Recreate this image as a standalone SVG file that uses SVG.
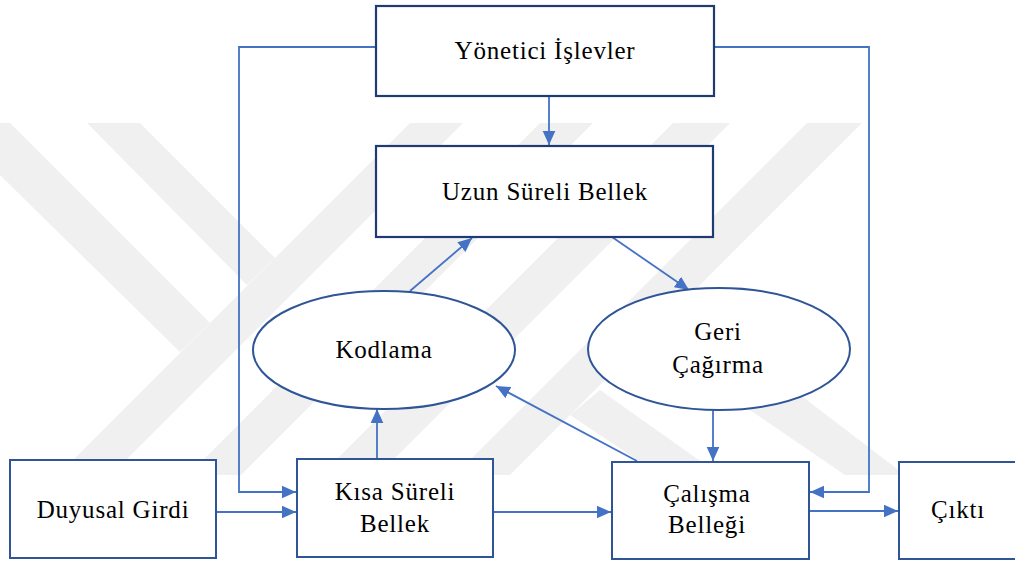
<svg xmlns="http://www.w3.org/2000/svg" width="1015" height="565" viewBox="0 0 1015 565">
<defs>
<style>
.wm{fill:#f0f0f0;}
.box{fill:#ffffff;stroke:#1f3b73;stroke-width:2.2;}
.box2{fill:#ffffff;stroke:#2f5597;stroke-width:2;}
.ell{fill:#ffffff;stroke:#2f5597;stroke-width:2;}
.conn{fill:none;stroke:#4472c4;stroke-width:1.8;}
.lbl{font-family:'Liberation Serif','Times New Roman',serif;font-size:25px;fill:#000000;text-anchor:middle;letter-spacing:0.8px;}
</style>
<marker id="arrw" viewBox="0 0 10 10" refX="10" refY="5" markerWidth="14" markerHeight="14" markerUnits="userSpaceOnUse" orient="auto">
<path d="M0,0.5 L10,5 L0,9.5 z" fill="#4472c4"/>
</marker>
</defs>
<rect width="1015" height="565" fill="#ffffff"/>
<g id="watermark">
<polygon class="wm" points="0,123 10,123 210,323 180,352 0,175"/>
<polygon class="wm" points="87,123 140,123 275,258 247,285"/>
<polygon class="wm" points="410,123 463,123 111,475 58,475"/>
<polygon class="wm" points="540,123 593,123 241,475 188,475"/>
<polygon class="wm" points="673,123 730,123 378,475 321,475"/>
<polygon class="wm" points="807,123 862,123 510,475 455,475"/>
<polygon class="wm" points="680,303 905,475 845,475 640,335"/>
<polygon class="wm" points="600,390 720,475 660,475 570,415"/>
</g>
<g id="connectors">
<path class="conn" d="M549,96 L549,145" marker-end="url(#arrw)"/>
<path class="conn" d="M376,47 L239,47 L239,492 L296,492" marker-end="url(#arrw)"/>
<path class="conn" d="M714,47 L869,47 L869,492 L810,492" marker-end="url(#arrw)"/>
<path class="conn" d="M216,512 L296,512" marker-end="url(#arrw)"/>
<path class="conn" d="M493,512 L611,512" marker-end="url(#arrw)"/>
<path class="conn" d="M809,511 L898,511" marker-end="url(#arrw)"/>
<path class="conn" d="M377,459 L377,409" marker-end="url(#arrw)"/>
<path class="conn" d="M637,461 L496,386" marker-end="url(#arrw)"/>
<path class="conn" d="M410,291 L472,238" marker-end="url(#arrw)"/>
<path class="conn" d="M612,237 L689,290" marker-end="url(#arrw)"/>
<path class="conn" d="M713,410 L713,461" marker-end="url(#arrw)"/>
</g>
<g id="yonetici">
<rect class="box" x="376" y="6" width="338" height="90"/>
<text class="lbl" x="545" y="59">Yönetici İşlevler</text>
</g>
<g id="uzun">
<rect class="box" x="376" y="146" width="337" height="91"/>
<text class="lbl" x="545" y="200">Uzun Süreli Bellek</text>
</g>
<g id="kodlama">
<ellipse class="ell" cx="384" cy="350" rx="131" ry="59"/>
<text class="lbl" x="384" y="358">Kodlama</text>
</g>
<g id="geri">
<ellipse class="ell" cx="719" cy="349" rx="131" ry="61"/>
<text class="lbl" x="718" y="340">Geri</text>
<text class="lbl" x="718" y="373">Çağırma</text>
</g>
<g id="duyusal">
<rect class="box2" x="10" y="460" width="206" height="98"/>
<text class="lbl" x="113" y="518">Duyusal Girdi</text>
</g>
<g id="kisa">
<rect class="box2" x="297" y="459" width="196" height="98"/>
<text class="lbl" x="395" y="500">Kısa Süreli</text>
<text class="lbl" x="395" y="532">Bellek</text>
</g>
<g id="calisma">
<rect class="box2" x="612" y="462" width="197" height="97"/>
<text class="lbl" x="707" y="502">Çalışma</text>
<text class="lbl" x="707" y="533">Belleği</text>
</g>
<g id="cikti">
<rect class="box2" x="899" y="462" width="130" height="97"/>
<text class="lbl" x="958" y="518">Çıktı</text>
</g>
</svg>
